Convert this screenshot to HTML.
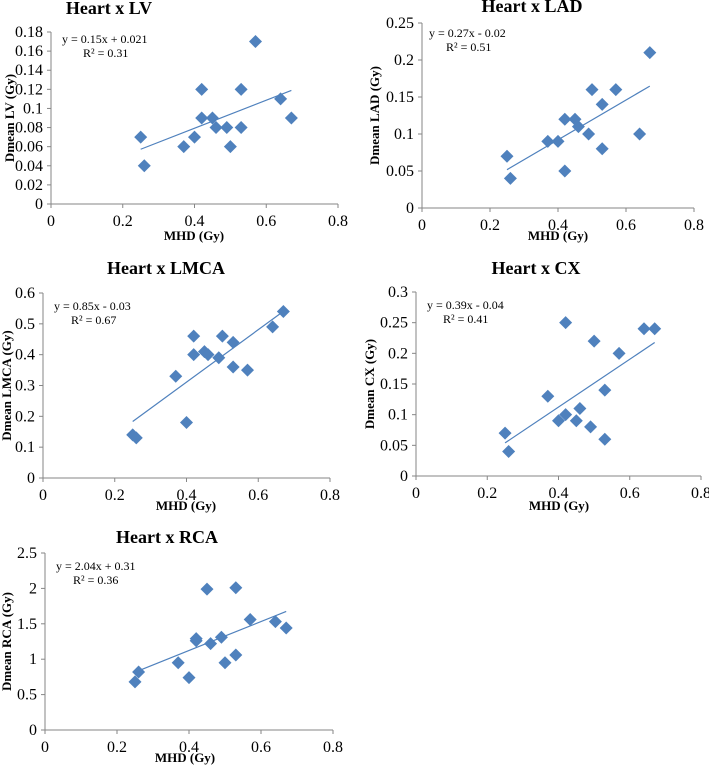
<!DOCTYPE html>
<html><head><meta charset="utf-8"><style>
body{margin:0;background:#fff;width:709px;height:766px;overflow:hidden}
svg{display:block}
text{font-family:"Liberation Serif","DejaVu Serif",serif;fill:#000}
</style></head><body>
<svg id="s" width="709" height="766"></svg>
<script>
const mhd = [0.25,0.26,0.37,0.40,0.42,0.42,0.45,0.46,0.49,0.50,0.53,0.53,0.57,0.64,0.67];
const lvValues = [0.07,0.04,0.06,0.07,0.12,0.09,0.09,0.08,0.08,0.06,0.12,0.08,0.17,0.11,0.09];
const ladValues = [0.07,0.04,0.09,0.09,0.12,0.05,0.12,0.11,0.10,0.16,0.14,0.08,0.16,0.10,0.21];
const lmcaValues = [0.14,0.13,0.33,0.18,0.46,0.40,0.41,0.40,0.39,0.46,0.44,0.36,0.35,0.49,0.54];
const cxValues = [0.07,0.04,0.13,0.09,0.25,0.10,0.09,0.11,0.08,0.22,0.14,0.06,0.20,0.24,0.24];
const rcaValues = [0.68,0.82,0.95,0.74,1.29,1.26,1.99,1.22,1.31,0.95,2.01,1.06,1.56,1.53,1.44];
const xTicks = [0,0.2,0.4,0.6,0.8];
const lvTicks = [0,0.02,0.04,0.06,0.08,0.1,0.12,0.14,0.16,0.18];
const ladTicks = [0,0.05,0.1,0.15,0.2,0.25];
const lmcaTicks = [0,0.1,0.2,0.3,0.4,0.5,0.6];
const cxTicks = [0,0.05,0.1,0.15,0.2,0.25,0.3];
const rcaTicks = [0,0.5,1,1.5,2,2.5];
const titles = ["Heart x LV","Heart x LAD","Heart x LMCA","Heart x CX","Heart x RCA"];
const yTitles = ["Dmean LV (Gy)","Dmean LAD (Gy)","Dmean LMCA (Gy)","Dmean CX (Gy)","Dmean RCA (Gy)"];
const equations = ["y = 0.15x + 0.021","y = 0.27x - 0.02","y = 0.85x - 0.03","y = 0.39x - 0.04","y = 2.04x + 0.31"];
const r2 = ["R² = 0.31","R² = 0.51","R² = 0.67","R² = 0.41","R² = 0.36"];

const layouts = [
 {L:51,R:338,T:32,B:204,tx:109,ty:14,xt:194,xy:240,yt:10,ex:62,ey:43,rx:83},
 {L:422,R:694,T:23,B:208,tx:532,ty:12,xt:558,xy:240,yt:375,ex:429,ey:37,rx:446},
 {L:43,R:330,T:293,B:478,tx:166,ty:274,xt:186,xy:510,yt:7,ex:54,ey:310,rx:71},
 {L:416,R:701,T:292,B:476,tx:536,ty:274,xt:559,xy:510,yt:370,ex:427,ey:309,rx:443},
 {L:45,R:333,T:553,B:730,tx:167,ty:543,xt:185,xy:762,yt:7,ex:56,ey:570,rx:73}
];
const series=[lvValues,ladValues,lmcaValues,cxValues,rcaValues];
const ticks=[lvTicks,ladTicks,lmcaTicks,cxTicks,rcaTicks];
const names=["lv","lad","lmca","cx","rca"];
const NS="http://www.w3.org/2000/svg";
const svg=document.getElementById('s');
function mk(tag,attrs,parent,txt){const e=document.createElementNS(NS,tag);for(const k in attrs)e.setAttribute(k,attrs[k]);if(txt!==undefined)e.textContent=txt;parent.appendChild(e);return e;}
const blue="#4F81BD", ax="#868686";
series.forEach((vals,i)=>{
 const c=layouts[i], yt=ticks[i], ymax=yt[yt.length-1];
 const g=mk('g',{},svg);
 
 
 const X=v=>c.L+(v-xTicks[0])/(xTicks[xTicks.length-1]-xTicks[0])*(c.R-c.L);
 const Y=v=>c.B-v/ymax*(c.B-c.T);
 let t=mk('text',{x:c.tx,y:c.ty,'text-anchor':'middle','font-size':18,'font-weight':'bold'},g,titles[i]);
 
 
 let a=mk('line',{x1:c.L,y1:c.T,x2:c.L,y2:c.B,stroke:ax},g);
 
 
 a=mk('line',{x1:c.L,y1:c.B,x2:c.R,y2:c.B,stroke:ax},g);
 
 
 yt.forEach(v=>{
  mk('line',{x1:c.L-4,y1:Y(v),x2:c.L,y2:Y(v),stroke:ax},g);
  const l=mk('text',{x:c.L-8,y:Y(v)+5,'text-anchor':'end','font-size':16},g,String(v));
  
  
 });
 xTicks.forEach(v=>{
  mk('line',{x1:X(v),y1:c.B,x2:X(v),y2:c.B+4,stroke:ax},g);
  const l=mk('text',{x:X(v),y:c.B+22,'text-anchor':'middle','font-size':16},g,String(v));
  
  
 });
 t=mk('text',{x:c.xt,y:c.xy,'text-anchor':'middle','font-size':13,'font-weight':'bold'},g,'MHD (Gy)');
 
 
 const cy=(c.T+c.B)/2;
 t=mk('text',{x:c.yt,y:cy,'text-anchor':'middle','font-size':13,'font-weight':'bold',transform:`rotate(-90 ${c.yt} ${cy})`,dy:4},g,yTitles[i]);
 
 
 const n=mhd.length; let sx=0,sy=0,sxx=0,sxy=0;
 for(let k=0;k<n;k++){sx+=mhd[k];sy+=vals[k];sxx+=mhd[k]*mhd[k];sxy+=mhd[k]*vals[k];}
 const m=(n*sxy-sx*sy)/(n*sxx-sx*sx), b=(sy-m*sx)/n;
 const x0=Math.min(...mhd), x1=Math.max(...mhd);
 const tl=mk('line',{x1:X(x0),y1:Y(m*x0+b),x2:X(x1),y2:Y(m*x1+b),stroke:blue,'stroke-width':1.2},g);
 
 
 vals.forEach((v,k)=>{
  const px=X(mhd[k]),py=Y(v),r=6.5;
  const p=mk('polygon',{points:`${px},${py-r} ${px+r},${py} ${px},${py+r} ${px-r},${py}`,fill:blue},g);
  
  
 });
 t=mk('text',{x:c.ex,y:c.ey,'font-size':12},g,equations[i]);
 
 
 t=mk('text',{x:c.rx,y:c.ey+14,'font-size':12},g,r2[i]);
 
 
});
</script>
</body></html>
